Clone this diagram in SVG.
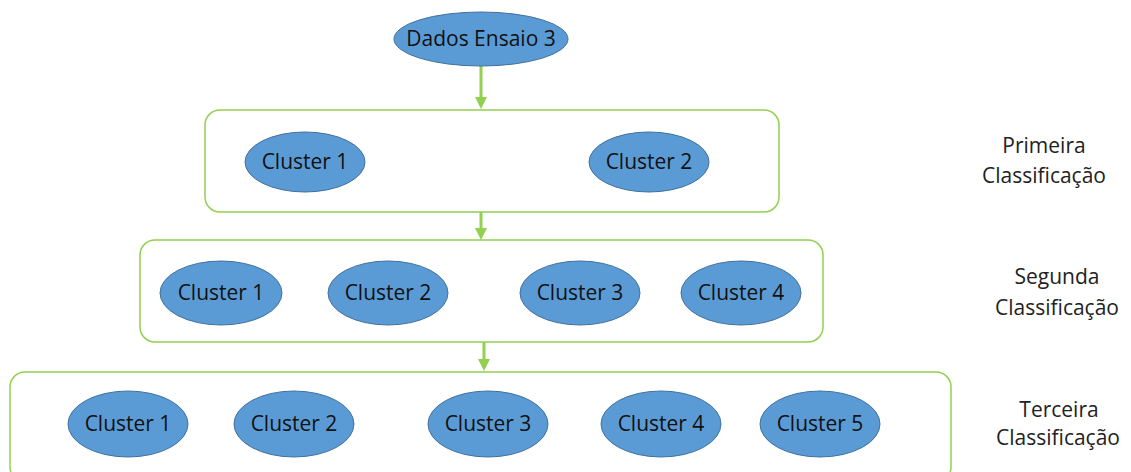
<svg xmlns="http://www.w3.org/2000/svg" width="1131" height="472" viewBox="0 0 1131 472">
<defs>
<style>
.box{fill:#fff;stroke:#92D050;stroke-width:1.5}
.el{fill:#5B9BD5;stroke:#41719C;stroke-width:1}
.t{font-family:"Open Sans","Liberation Sans",sans-serif;font-size:21px;fill:#111;text-anchor:middle}
.lab{font-family:"Open Sans","Liberation Sans",sans-serif;font-size:21px;fill:#222;text-anchor:middle}
.ar{stroke:#92D050;stroke-width:3;fill:none}
.ah{fill:#92D050}
</style>
</defs>
<rect width="1131" height="472" fill="#fff"/>
<g id="box1"><rect class="box" x="205" y="110" width="574" height="102" rx="15"/></g>
<g id="box2"><rect class="box" x="140" y="240" width="683" height="102" rx="15"/></g>
<g id="box3"><rect class="box" x="10" y="372" width="941" height="110" rx="15"/></g>
<g id="connectors">
<line class="ar" x1="481" y1="66" x2="481" y2="98"/>
<path class="ah" d="M475,97 L487,97 L481,109 Z"/>
<line class="ar" x1="481" y1="212" x2="481" y2="229"/>
<path class="ah" d="M475,228 L487,228 L481,240 Z"/>
<line class="ar" x1="484" y1="342" x2="484" y2="360"/>
<path class="ah" d="M478,359 L490,359 L484,371 Z"/>
</g>
<g id="dados"><ellipse class="el" cx="481" cy="39" rx="87" ry="27"/><text class="t" x="481" y="46">Dados Ensaio 3</text></g>
<g id="p1"><ellipse class="el" cx="305" cy="162" rx="60" ry="30"/><text class="t" x="305" y="169">Cluster 1</text></g>
<g id="p2"><ellipse class="el" cx="649" cy="162" rx="60" ry="30"/><text class="t" x="649" y="169">Cluster 2</text></g>
<g id="s1"><ellipse class="el" cx="221" cy="293" rx="61" ry="32"/><text class="t" x="221" y="300">Cluster 1</text></g>
<g id="s2"><ellipse class="el" cx="388" cy="293" rx="60" ry="32"/><text class="t" x="388" y="300">Cluster 2</text></g>
<g id="s3"><ellipse class="el" cx="580" cy="293" rx="60" ry="32"/><text class="t" x="580" y="300">Cluster 3</text></g>
<g id="s4"><ellipse class="el" cx="741" cy="293" rx="60" ry="32"/><text class="t" x="741" y="300">Cluster 4</text></g>
<g id="t1"><ellipse class="el" cx="128" cy="424" rx="60" ry="33"/><text class="t" x="128" y="431">Cluster 1</text></g>
<g id="t2"><ellipse class="el" cx="294" cy="424" rx="60" ry="33"/><text class="t" x="294" y="431">Cluster 2</text></g>
<g id="t3"><ellipse class="el" cx="488" cy="424" rx="60" ry="33"/><text class="t" x="488" y="431">Cluster 3</text></g>
<g id="t4"><ellipse class="el" cx="661" cy="424" rx="60" ry="33"/><text class="t" x="661" y="431">Cluster 4</text></g>
<g id="t5"><ellipse class="el" cx="820" cy="424" rx="60" ry="33"/><text class="t" x="820" y="431">Cluster 5</text></g>
<g id="labels">
<text class="lab" x="1044" y="153">Primeira</text>
<text class="lab" x="1044" y="183">Classificação</text>
<text class="lab" x="1057" y="284">Segunda</text>
<text class="lab" x="1057" y="315">Classificação</text>
<text class="lab" x="1059" y="417">Terceira</text>
<text class="lab" x="1058" y="445">Classificação</text>
</g>
</svg>
